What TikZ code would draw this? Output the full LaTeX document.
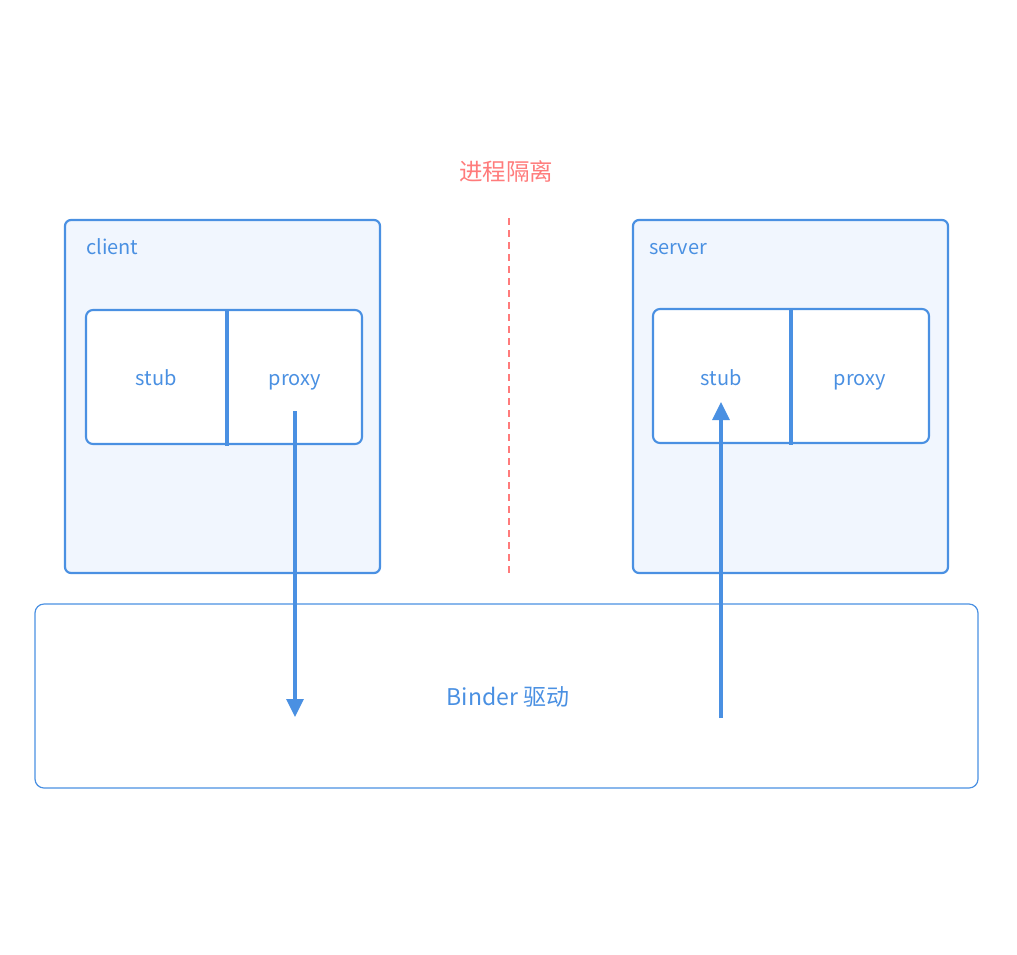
\documentclass[tikz,border=0pt]{standalone}
\usepackage{fontspec}
\setmainfont{Noto Sans CJK SC}
\usetikzlibrary{arrows.meta}
\definecolor{mblue}{HTML}{4A90E2}
\definecolor{mfill}{HTML}{F1F6FE}
\definecolor{mred}{HTML}{FF7B7B}
\begin{document}
\begin{tikzpicture}[x=1pt,y=-1pt,
  procbox/.style={draw=mblue,line width=2.2pt,fill=mfill,rounded corners=6pt},
  innerbox/.style={draw=mblue,line width=2.1pt,fill=white,rounded corners=7pt},
  divider/.style={draw=mblue,line width=3.3pt},
  lbl/.style={text=mblue,font=\fontsize{20}{24}\selectfont,inner sep=0pt,anchor=base},
  flow/.style={draw=mblue,line width=3.3pt,-{Triangle[length=18pt,width=17pt]}},
  ]
\useasboundingbox (0,0) rectangle (1017,954);
% title and dashed separator
\node[text=mred,font=\fontsize{23.5}{28}\selectfont,inner sep=0pt,anchor=base] (title) at (506,180) {进程隔离};
\coordinate (sepTop) at (509,218);
\coordinate (sepBot) at (509,575);
\draw[mred,line width=2.4pt,dash pattern=on 7pt off 5pt] (sepTop) -- (sepBot);
% client
\draw[procbox] (65,220) rectangle (380,573);
\node[lbl,anchor=base west] (client) at (86,254) {client};
\draw[innerbox] (86,310) rectangle (362,444);
\coordinate (cdivT) at (227,310);
\coordinate (cdivB) at (227,446);
\draw[divider] (cdivT) -- (cdivB);
\node[lbl] (cstub) at (156,385) {stub};
\node[lbl] (cproxy) at (295,385) {proxy};
% server
\draw[procbox] (633,220) rectangle (948,573);
\node[lbl,anchor=base west] (server) at (649,254) {server};
\draw[innerbox] (653,309) rectangle (929,443);
\coordinate (sdivT) at (791,309);
\coordinate (sdivB) at (791,445);
\draw[divider] (sdivT) -- (sdivB);
\node[lbl] (sstub) at (721,385) {stub};
\node[lbl] (sproxy) at (860,385) {proxy};
% binder
\draw[draw=mblue,line width=1.2pt,rounded corners=9pt] (35,604) rectangle (978,788);
\node[text=mblue,font=\fontsize{23}{28}\selectfont,inner sep=0pt,anchor=base] (binder) at (508,705) {Binder 驱动};
% arrows
\coordinate (a1s) at (295,411);
\coordinate (a1e) at (295,717);
\draw[flow] (a1s) -- (a1e);
\coordinate (a2s) at (721,718);
\coordinate (a2e) at (721,402);
\draw[flow] (a2s) -- (a2e);
\end{tikzpicture}
\end{document}
